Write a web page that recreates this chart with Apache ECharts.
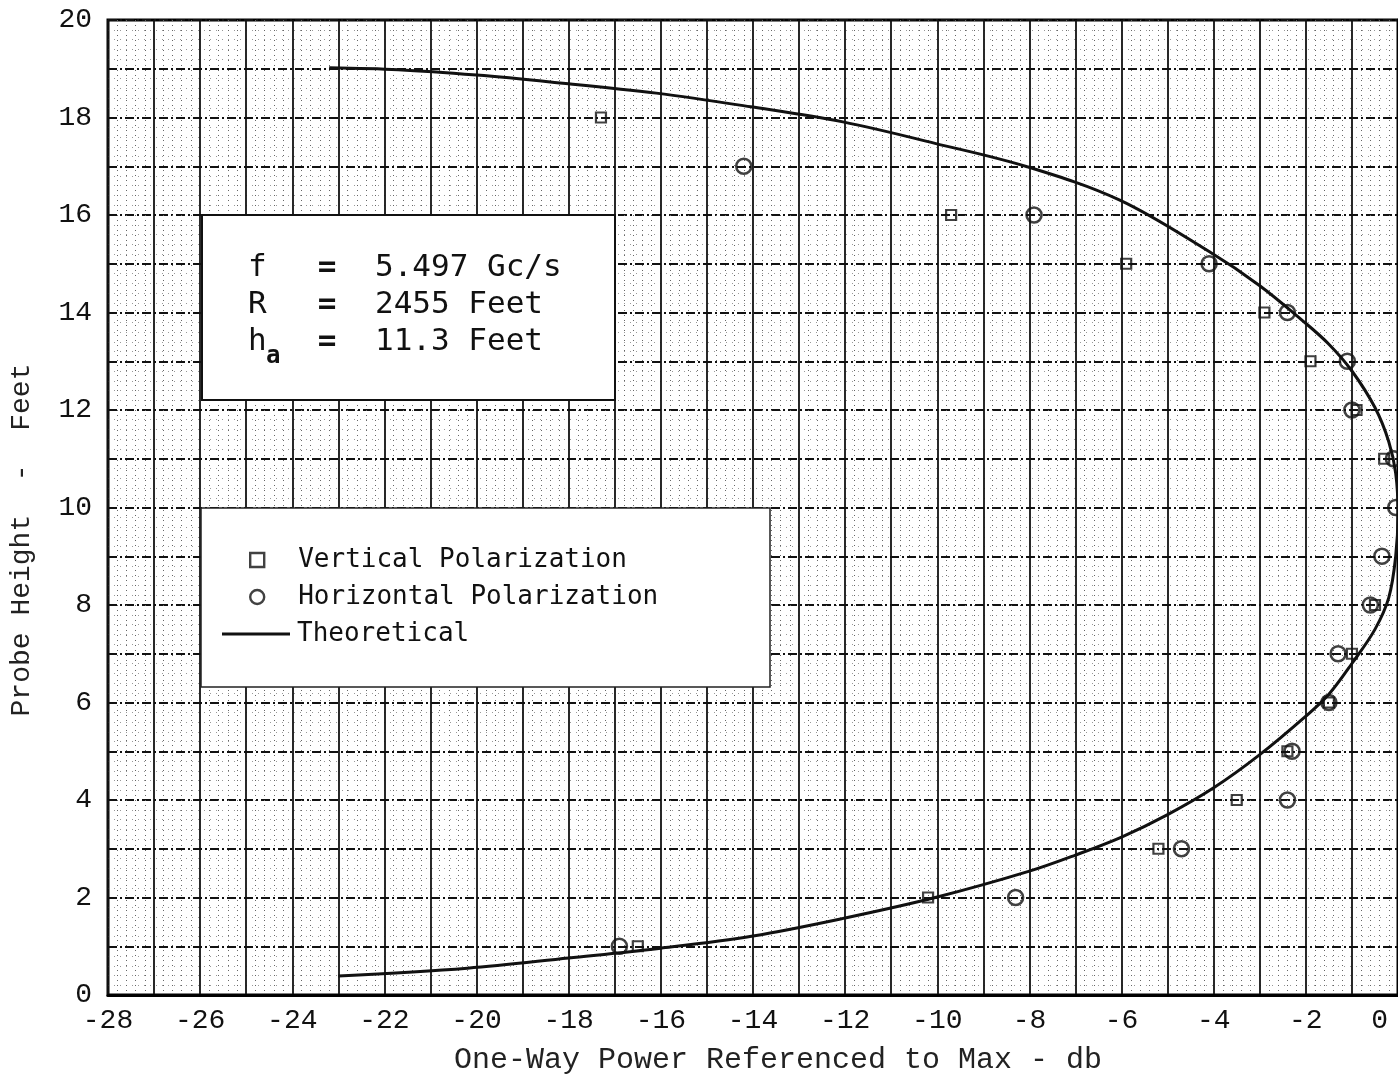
<!DOCTYPE html>
<html>
<head>
<meta charset="utf-8">
<script src="https://cdn.jsdelivr.net/npm/echarts@6/dist/echarts.min.js"></script>
<style>
  html, body { margin: 0; padding: 0; background: #fff; }
  #chart { width: 1398px; height: 1078px; }
</style>
</head>
<body>
<div id="chart"></div>
<script>
// Theoretical height-gain curve: one-way power (db) against probe height (feet),
// traced from the top branch round the maximum to the bottom branch
const theoryDb = [-23.2, -21.7, -20.0, -18.4, -16.1, -14.05, -12.05, -10.05, -8.05, -6.05, -4.1, -3.0, -2.08, -1.5, -1.0, -0.5, -0.2, -0.05, 0.0, -0.05, -0.2, -0.5, -1.0, -1.5, -2.0, -3.0, -4.0, -5.0, -6.0, -7.0, -8.0, -10.0, -12.0, -14.0, -16.0, -18.0, -20.2, -23.0];
const theoryFt = [19.02, 18.98, 18.87, 18.73, 18.5, 18.22, 17.91, 17.47, 16.99, 16.31, 15.25, 14.55, 13.84, 13.35, 12.8, 12.05, 11.35, 10.7, 9.9, 9.0, 8.15, 7.5, 6.8, 6.17, 5.72, 4.93, 4.25, 3.7, 3.24, 2.87, 2.54, 2.01, 1.58, 1.21, 0.96, 0.76, 0.55, 0.39];

// Measured, vertical polarization
const vertDb = [-17.3, -9.7, -5.9, -2.9, -1.9, -0.9, -0.3, -0.5, -1.0, -1.5, -2.4, -3.5, -5.2, -10.2, -16.5];
const vertFt = [18, 16, 15, 14, 13, 12, 11, 8, 7, 6, 5, 4, 3, 2, 1];

// Measured, horizontal polarization
const horizDb = [-14.2, -7.9, -4.1, -2.4, -1.1, -1.0, -0.1, -0.05, -0.35, -0.6, -1.3, -1.5, -2.3, -2.4, -4.7, -8.3, -16.9];
const horizFt = [17, 16, 15, 14, 13, 12, 11, 10, 9, 8, 7, 6, 5, 4, 3, 2, 1];

// Labelled ticks
const xTickLabels = [-28, -26, -24, -22, -20, -18, -16, -14, -12, -10, -8, -6, -4, -2, 0];
const yTickLabels = [0, 2, 4, 6, 8, 10, 12, 14, 16, 18, 20];

const zip = (a, b) => a.map((v, i) => [v, b[i]]);

const MONO = '"DejaVu Sans Mono", monospace';
const TYPE = '"Liberation Mono", "DejaVu Sans Mono", monospace';
const INK = '#111';

const chart = echarts.init(document.getElementById('chart'), null, { renderer: 'canvas' });

const boxText = (x, y, text, font, align) => ({
  type: 'text', z: 6, x, y,
  style: { text, font, fill: INK, align: align || 'left', verticalAlign: 'middle' }
});

chart.setOption({
  backgroundColor: '#fff',
  animation: false,
  grid: {
    left: 108, top: 20, width: 1295, height: 975,
    show: true, borderColor: '#000', borderWidth: 3, backgroundColor: 'transparent'
  },
  xAxis: {
    type: 'value', min: -28, max: 0, interval: 1,
    axisLine: { show: true, onZero: false, lineStyle: { color: '#000', width: 3 } },
    axisTick: { show: false },
    minorTick: { show: false, splitNumber: 5 },
    axisLabel: {
      margin: 12, color: INK, fontFamily: TYPE, fontSize: 28,
      alignMaxLabel: 'right',
      formatter: v => {
        const r = Math.round(v);
        if (!xTickLabels.includes(r)) return '';
        return r === 0 ? '{z|0}' : String(r);
      },
      rich: { z: { fontFamily: TYPE, fontSize: 28, color: INK, padding: [0, 10, 0, 0] } }
    },
    splitLine: { show: true, lineStyle: { color: INK, width: 1.8, type: 'solid' } },
    minorSplitLine: { show: true, lineStyle: { color: '#666', width: 1, type: [1, 4] } }
  },
  yAxis: {
    type: 'value', min: 0, max: 20, interval: 1,
    axisLine: { show: true, lineStyle: { color: '#000', width: 3 } },
    axisTick: { show: false },
    minorTick: { show: false, splitNumber: 5 },
    axisLabel: {
      margin: 16, color: INK, fontFamily: TYPE, fontSize: 28,
      formatter: v => yTickLabels.includes(Math.round(v)) ? String(Math.round(v)) : ''
    },
    splitLine: { show: true, lineStyle: { color: INK, width: 1.8, type: [9, 3, 2, 3] } },
    minorSplitLine: { show: true, lineStyle: { color: '#999', width: 1, type: [1, 5] } }
  },
  legend: [
    {
      orient: 'vertical', left: 249, top: 547, padding: 0,
      itemWidth: 14, itemHeight: 14, itemGap: 11,
      selectedMode: false, z: 10,
      itemStyle: { borderWidth: 2.4, borderColor: INK },
      textStyle: { fontFamily: MONO, fontSize: 26, lineHeight: 26, color: INK, padding: [0, 0, 0, 29] },
      data: [
        { name: 'Vertical Polarization', icon: 'rect' },
        { name: 'Horizontal Polarization', icon: 'circle' }
      ]
    },
    {
      orient: 'vertical', left: 222, top: 621, padding: 0,
      itemWidth: 68, itemHeight: 3,
      selectedMode: false, z: 10,
      textStyle: { fontFamily: MONO, fontSize: 26, lineHeight: 26, color: INK, padding: [0, 0, 0, 2] },
      data: [{ name: 'Theoretical', icon: 'rect' }]
    }
  ],
  graphic: [
    { type: 'rect', z: 5, shape: { x: 202, y: 215, width: 413, height: 185 },
      style: { fill: '#fff', stroke: INK, lineWidth: 2 } },
    { type: 'rect', z: 5, shape: { x: 201, y: 508, width: 569, height: 179 },
      style: { fill: '#fff', stroke: '#222', lineWidth: 1.5 } },
    boxText(248, 268, 'f', '31px ' + MONO),
    boxText(248, 305, 'R', '31px ' + MONO),
    boxText(248, 342, 'h', '31px ' + MONO),
    boxText(266, 357, 'a', 'bold 24px ' + MONO),
    boxText(327, 268, '=', 'bold 31px ' + MONO, 'center'),
    boxText(327, 305, '=', 'bold 31px ' + MONO, 'center'),
    boxText(327, 342, '=', 'bold 31px ' + MONO, 'center'),
    boxText(375, 268, '5.497 Gc/s', '31px ' + MONO),
    boxText(375, 305, '2455 Feet', '31px ' + MONO),
    boxText(375, 342, '11.3 Feet', '31px ' + MONO),
    // axis titles
    { type: 'text', z: 6, x: 778, y: 1060,
      style: { text: 'One-Way Power Referenced to Max - db', font: '30px ' + TYPE, fill: '#222', align: 'center', verticalAlign: 'middle' } },
    { type: 'text', z: 6, x: 22, y: 540, rotation: Math.PI / 2,
      style: { text: 'Probe Height  -  Feet', font: '28px ' + TYPE, fill: '#222', align: 'center', verticalAlign: 'middle' } }
  ],
  series: [
    {
      name: 'Vertical Polarization', type: 'scatter', z: 3,
      symbol: 'rect', symbolSize: 10,
      itemStyle: { color: 'transparent', borderColor: INK, borderWidth: 2.2 },
      data: zip(vertDb, vertFt)
    },
    {
      name: 'Horizontal Polarization', type: 'scatter', z: 3,
      symbol: 'circle', symbolSize: 15,
      itemStyle: { color: 'transparent', borderColor: INK, borderWidth: 2.6 },
      data: zip(horizDb, horizFt)
    },
    {
      name: 'Theoretical', type: 'line', z: 2,
      symbol: 'none', smooth: 0.35,
      lineStyle: { color: INK, width: 3 },
      itemStyle: { color: INK },
      data: zip(theoryDb, theoryFt)
    }
  ]
});
</script>
</body>
</html>
